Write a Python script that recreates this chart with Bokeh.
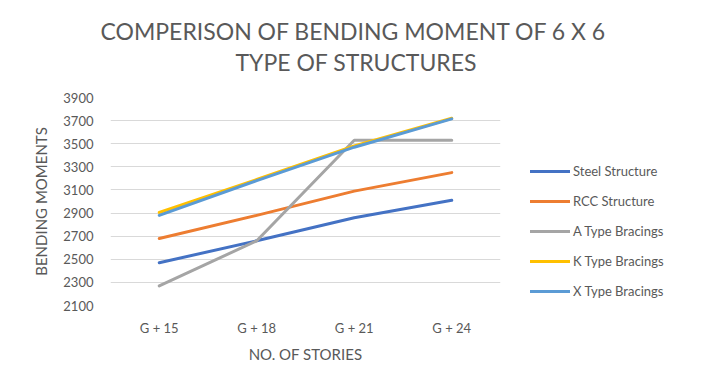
from bokeh.plotting import figure
from bokeh.models import (FactorRange, Range1d, FixedTicker, Legend, LegendItem, Title)
from bokeh.embed import file_html
from bokeh.resources import INLINE

stories = ["G + 15", "G + 18", "G + 21", "G + 24"]
steel = [2470, 2660, 2860, 3010]
rcc = [2680, 2880, 3090, 3250]
a_type = [2270, 2660, 3530, 3530]
k_type = [2905, 3190, 3480, 3720]
x_type = [2880, 3180, 3470, 3715]
series_names = ["Steel Structure", "RCC Structure", "A Type Bracings", "K Type Bracings", "X Type Bracings"]
colors = ["#4472C4", "#ED7D31", "#A5A5A5", "#FFC000", "#5B9BD5"]
y_ticks = [2100, 2300, 2500, 2700, 2900, 3100, 3300, 3500, 3700, 3900]
title_lines = ["COMPERISON OF BENDING MOMENT OF 6 X 6", "TYPE OF STRUCTURES"]

FONT = "Lato"
GREY = "#595959"

p = figure(frame_width=390, frame_height=208, output_backend="svg", toolbar_location=None,
           x_range=FactorRange(factors=stories, range_padding=0),
           y_range=Range1d(2100, 3900),
           min_border_left=110, min_border_right=195, min_border_top=97, min_border_bottom=67)
p.outline_line_color = None
p.background_fill_color = "white"
p.border_fill_color = "white"

p.yaxis.ticker = FixedTicker(ticks=y_ticks)
p.ygrid.ticker = FixedTicker(ticks=y_ticks)
p.xgrid.grid_line_color = None
p.ygrid.grid_line_color = "#D9D9D9"
p.ygrid.grid_line_width = 1

for ax in (p.xaxis, p.yaxis):
    ax.axis_line_color = None
    ax.major_tick_line_color = None
    ax.minor_tick_line_color = None
    ax.major_tick_out = 0
    ax.major_tick_in = 0
    ax.major_label_text_font = FONT
    ax.major_label_text_color = GREY
    ax.major_label_text_font_size = "13px"
    ax.axis_label_text_font = FONT
    ax.axis_label_text_color = GREY
    ax.axis_label_text_font_size = "15px"
    ax.axis_label_text_font_style = "normal"

p.yaxis.major_label_standoff = 17
p.xaxis.major_label_standoff = 14
p.yaxis.axis_label = "BENDING MOMENTS"
p.xaxis.axis_label = "NO. OF STORIES"
p.yaxis.axis_label_standoff = 10
p.xaxis.axis_label_standoff = 6

items = []
for name, vals, col in zip(series_names, [steel, rcc, a_type, k_type, x_type], colors):
    r = p.line(stories, vals, line_color=col, line_width=3, line_join="round", line_cap="round")
    items.append(LegendItem(label=name, renderers=[r]))

legend = Legend(items=items, location=(30, 4), orientation="vertical",
                border_line_color=None, background_fill_alpha=0,
                label_text_font=FONT, label_text_color=GREY, label_text_font_size="13px",
                glyph_width=40, glyph_height=20, label_height=20, label_standoff=3,
                spacing=10, padding=0, margin=0)
p.add_layout(legend, "right")

# spacer between plot area and title block
p.add_layout(Title(text=" ", standoff=18, text_font_size="1px"), "above")
p.add_layout(Title(text=title_lines[1], align="left", offset=125, standoff=2, text_font=FONT,
                   text_font_size="23px", text_color=GREY, text_font_style="normal"), "above")
p.add_layout(Title(text=title_lines[0], align="left", offset=-10, standoff=0, text_font=FONT,
                   text_font_size="23px", text_color=GREY, text_font_style="normal"), "above")

open("out.html", "w").write(file_html(p, INLINE))
